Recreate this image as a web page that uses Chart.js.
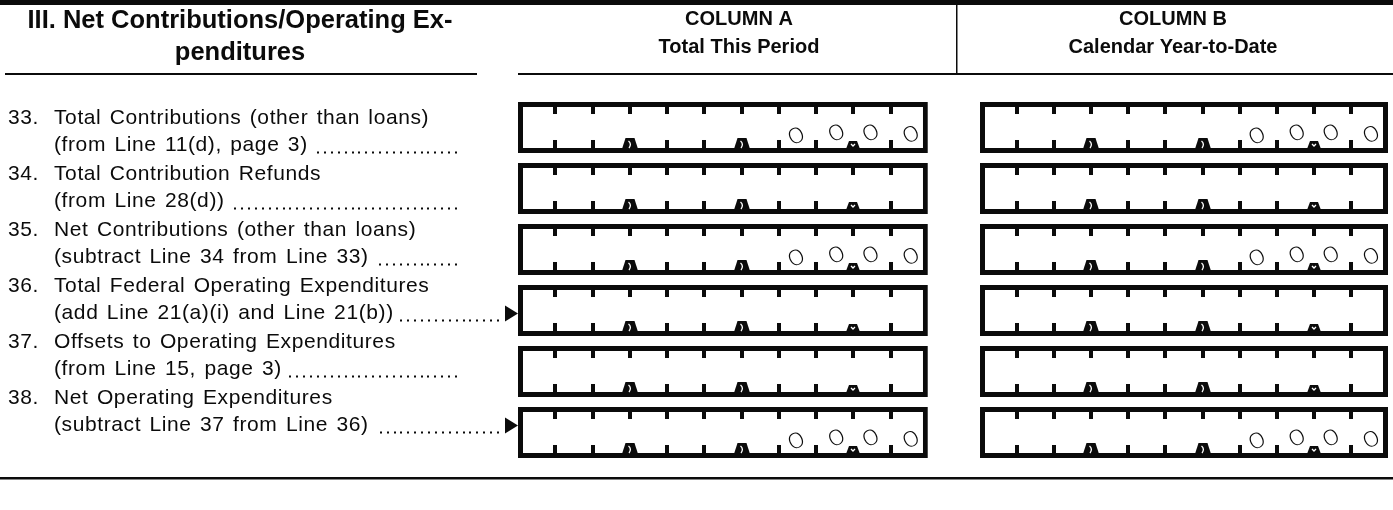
<!DOCTYPE html>
<html>
<head>
<meta charset="utf-8">
<script src="https://cdn.jsdelivr.net/npm/chart.js@4.4.1/dist/chart.umd.min.js"></script>
<style>
  html, body { margin: 0; padding: 0; background: #ffffff; }
  #wrap { width: 1393px; height: 510px; position: relative; }
</style>
</head>
<body>
<div id="wrap"><canvas id="c" width="1393" height="510"></canvas></div>
<script>
// ---------------- data ----------------
const sectionTitle = ['III. Net Contributions/Operating Ex-', 'penditures'];
const columnAHeader = ['COLUMN A', 'Total This Period'];
const columnBHeader = ['COLUMN B', 'Calendar Year-to-Date'];
const lineNumbers = ['33.', '34.', '35.', '36.', '37.', '38.'];
const lineTitles = [
  'Total Contributions (other than loans)',
  'Total Contribution Refunds',
  'Net Contributions (other than loans)',
  'Total Federal Operating Expenditures',
  'Offsets to Operating Expenditures',
  'Net Operating Expenditures'
];
const lineSources = [
  '(from Line 11(d), page 3)',
  '(from Line 28(d))',
  '(subtract Line 34 from Line 33)',
  '(add Line 21(a)(i) and Line 21(b))',
  '(from Line 15, page 3)',
  '(subtract Line 37 from Line 36)'
];
const lineArrows = [false, false, false, true, false, true];
// amounts as handwritten in the boxes (null = left blank)
const columnAValues = ['00.00', null, '00.00', null, null, '00.00'];
const columnBValues = ['00.00', null, '00.00', null, null, '00.00'];

// ---------------- layout / style ----------------
const INK = '#0b0b0b';
const CELLS = 11;                 // digit cells per amount box
const FIELD_A = [0, 11];          // box extents in cell units
const FIELD_B = [12.4, 23.35];
const BORDER = 5;
const SEPARATORS = [3, 6, 9];     // comma, comma, decimal marks
const BODY_FONT = '21px "Liberation Sans", Arial, sans-serif';
const HEAD_FONT = 'bold 25.5px "Liberation Sans", Arial, sans-serif';
const COL_FONT = 'bold 20px "Liberation Sans", Arial, sans-serif';
const HAND_FONT = '200 22px Inter, "DejaVu Sans", sans-serif';
const TEXT_TOP = 118, TEXT_PITCH = 56, LINE2 = 27.5;

const valueSets = [columnAValues, columnBValues];
const fields = [FIELD_A, FIELD_B];

function setSpacing(ctx, ls, ws) {
  try { ctx.letterSpacing = ls; ctx.wordSpacing = ws; } catch (e) {}
}

const formPlugin = {
  id: 'formPlugin',
  beforeDraw(chart) {
    const ctx = chart.ctx;
    ctx.save();
    ctx.fillStyle = '#ffffff';
    ctx.fillRect(0, 0, chart.width, chart.height);
    ctx.restore();
  },
  afterDatasetsDraw(chart) {
    const ctx = chart.ctx;
    const xs = chart.scales.x;
    ctx.save();
    chart.data.datasets.forEach((ds, di) => {
      const meta = chart.getDatasetMeta(di);
      const f = fields[di];
      const x0 = xs.getPixelForValue(f[0]);
      const x1 = xs.getPixelForValue(f[1]);
      const cw = (x1 - x0) / CELLS;
      meta.data.forEach((bar, i) => {
        const p = bar.getProps(['y', 'height'], true);
        const top = p.y - p.height / 2;
        const bot = p.y + p.height / 2;
        ctx.fillStyle = INK;
        for (let k = 1; k < CELLS; k++) {
          const tx = Math.round(x0 + k * cw);
          ctx.fillRect(tx - 2, top + BORDER - 1, 4, 8);
          if (SEPARATORS.includes(k)) {
            const big = k !== 9;
            const bw = big ? 8 : 7, tw = big ? 4.5 : 4, h = big ? 11 : 8;
            const by = bot - BORDER + 1;
            ctx.fillStyle = INK;
            ctx.beginPath();
            ctx.moveTo(tx - bw, by);
            ctx.lineTo(tx - tw, by - h);
            ctx.lineTo(tx + tw, by - h);
            ctx.lineTo(tx + bw, by);
            ctx.closePath();
            ctx.fill();
            ctx.strokeStyle = '#ffffff';
            ctx.lineWidth = 1.3;
            ctx.beginPath();
            if (big) {
              ctx.moveTo(tx - 1.5, by - h + 3);
              ctx.quadraticCurveTo(tx + 2, by - 5, tx - 1, by - 1);
            } else {
              ctx.moveTo(tx - 2, by - h + 3);
              ctx.lineTo(tx, by - h + 5);
              ctx.lineTo(tx + 2, by - h + 3);
            }
            ctx.stroke();
          } else {
            ctx.fillRect(tx - 2, bot - BORDER - 8, 4, 9);
          }
        }
        // handwritten amount
        const v = valueSets[di][i];
        if (v) {
          const parts = v.split('.');
          const dollars = parts[0], cents = parts[1] || '';
          const digits = [];
          for (let c = 0; c < cents.length; c++) digits.push({ ch: cents[c], cell: CELLS - cents.length + c });
          for (let d = 0; d < dollars.length; d++) digits.push({ ch: dollars[d], cell: CELLS - cents.length - dollars.length + d });
          digits.forEach((g, n) => {
            const cx = x0 + (g.cell + 0.5) * cw + ((n % 2) ? 2 : -1);
            const cy = bot - 18 + ((n % 3) - 1) * 1.5;
            ctx.save();
            ctx.translate(cx, cy);
            ctx.rotate(-0.45);
            ctx.scale(1.3, 0.95);
            ctx.font = HAND_FONT;
            ctx.fillStyle = INK;
            ctx.textAlign = 'center';
            ctx.textBaseline = 'middle';
            ctx.fillText(g.ch, 0, 0);
            ctx.restore();
          });
        }
      });
    });
    ctx.restore();
  },
  afterDraw(chart) {
    const ctx = chart.ctx;
    const W = chart.width;
    ctx.save();
    ctx.fillStyle = INK;
    ctx.strokeStyle = INK;
    // top heavy rule
    ctx.fillRect(0, 0, W, 5);
    // header rules
    ctx.fillRect(5, 73, 472, 2);
    ctx.fillRect(518, 73, W - 518, 2);
    ctx.fillRect(956, 5, 1.5, 69);
    // bottom rule
    ctx.fillRect(0, 477, W, 2.5);

    // section title
    ctx.textBaseline = 'middle';
    ctx.textAlign = 'center';
    ctx.font = HEAD_FONT;
    setSpacing(ctx, '0px', '0px');
    ctx.fillText(sectionTitle[0], 240, 21);
    ctx.fillText(sectionTitle[1], 240, 53);
    // column headers
    ctx.font = COL_FONT;
    ctx.fillText(columnAHeader[0], 739, 19);
    ctx.fillText(columnAHeader[1], 739, 47);
    ctx.fillText(columnBHeader[0], 1173, 19);
    ctx.fillText(columnBHeader[1], 1173, 47);

    // line descriptions
    ctx.textAlign = 'left';
    ctx.font = BODY_FONT;
    lineNumbers.forEach((num, i) => {
      const y1 = TEXT_TOP + i * TEXT_PITCH;
      const y2 = y1 + LINE2;
      setSpacing(ctx, '0.6px', '2px');
      ctx.fillText(num, 8, y1);
      ctx.fillText(lineTitles[i], 54, y1);
      ctx.fillText(lineSources[i], 54, y2);
      const endX = 54 + ctx.measureText(lineSources[i]).width + 6;
      const leaderEnd = lineArrows[i] ? 500 : 458;
      // dot leader
      setSpacing(ctx, '0px', '0px');
      const dotW = 6.9;
      for (let dx = leaderEnd - 3; dx >= endX; dx -= dotW) {
        ctx.fillRect(Math.round(dx), y2 + 6, 2, 2);
      }
      if (lineArrows[i]) {
        ctx.beginPath();
        ctx.moveTo(505, y2 - 8);
        ctx.lineTo(518, y2);
        ctx.lineTo(505, y2 + 8);
        ctx.closePath();
        ctx.fill();
      }
    });
    ctx.restore();
  }
};

const boxStyle = {
  backgroundColor: '#ffffff',
  borderColor: INK,
  hoverBackgroundColor: '#ffffff',
  hoverBorderColor: INK,
  borderWidth: BORDER,
  borderSkipped: false,
  barPercentage: 0.836,
  categoryPercentage: 1
};
const boxData = (f) => lineNumbers.map(() => [f[0], f[1]]);

new Chart(document.getElementById('c'), {
  type: 'bar',
  data: {
    labels: lineNumbers,
    datasets: [
      Object.assign({ label: columnAHeader.join(' '), data: boxData(FIELD_A) }, boxStyle),
      Object.assign({ label: columnBHeader.join(' '), data: boxData(FIELD_B) }, boxStyle)
    ]
  },
  options: {
    indexAxis: 'y',
    responsive: false,
    animation: false,
    devicePixelRatio: 1,
    layout: { padding: { left: 518, right: 5, top: 97, bottom: 47 } },
    datasets: { bar: { grouped: false } },
    scales: {
      x: { type: 'linear', min: 0, max: 23.35, display: false },
      y: { type: 'category', display: false, offset: true }
    },
    plugins: {
      colors: { enabled: false },
      legend: { display: false },
      tooltip: { enabled: false },
      title: { display: false }
    }
  },
  plugins: [formPlugin]
});
</script>
</body>
</html>
